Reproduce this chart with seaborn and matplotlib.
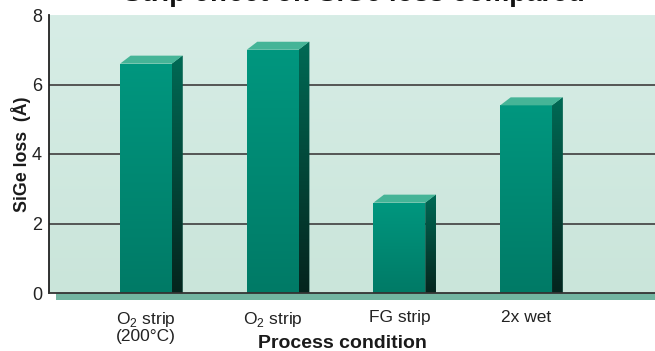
import numpy as np
import pandas as pd
import matplotlib
matplotlib.use("Agg")
import matplotlib.pyplot as plt
import seaborn as sns
from matplotlib.patches import Polygon, Rectangle
from matplotlib.colors import LinearSegmentedColormap

categories = ["O$_2$ strip\n(200°C)", "O$_2$ strip", "FG strip", "2x wet"]
values = [6.6, 7.0, 2.6, 5.4]
yticks = [0, 2, 4, 6, 8]
title = "Strip effect on SiGe loss compared"
xlabel = "Process condition"
ylabel = "SiGe loss  (Å)"

df = pd.DataFrame({"cond": categories, "loss": values})

sns.set_theme(style="white")
plt.rcParams["font.family"] = ["Liberation Sans", "DejaVu Sans"]
plt.rcParams["mathtext.fontset"] = "custom"
plt.rcParams["mathtext.rm"] = "Liberation Sans"

W, H = 655, 351
fig = plt.figure(figsize=(W / 100, H / 100), dpi=100)
ax_left, ax_right, ax_top, ax_bot = 49, 655, 15, 293
ax = fig.add_axes([ax_left / W, 1 - ax_bot / H, (ax_right - ax_left) / W, (ax_bot - ax_top) / H])

sns.barplot(data=df, x="cond", y="loss", ax=ax, width=0.41, color="#00927a",
            saturation=1, linewidth=0, zorder=3)

xlo, xhi = -0.766, 4.017
ax.set_xlim(xlo, xhi)
ax.set_ylim(0, 8)
ax.set_yticks(yticks)

# background gradient
bg = LinearSegmentedColormap.from_list("bg", ["#cae5da", "#d7ede6"])
ax.imshow(np.linspace(0, 1, 256).reshape(-1, 1), aspect="auto", cmap=bg, origin="lower",
          extent=[0, 1, 0, 1], transform=ax.transAxes, zorder=0)

for v in yticks[1:-1]:
    ax.axhline(v, color="#4a4a4a", lw=1.3, zorder=1)

ax_w_px = ax_right - ax_left
ax_h_px = ax_bot - ax_top
dx = 10.5 * (xhi - xlo) / ax_w_px
dy = 8 * 8 / ax_h_px

front_cm = LinearSegmentedColormap.from_list("front", ["#007a66", "#00977f"])
side_cm = LinearSegmentedColormap.from_list("side", ["#05241d", "#006a55"])
grad = np.linspace(0, 1, 256).reshape(-1, 1)

for p in list(ax.patches):
    x0 = p.get_x()
    x1 = x0 + p.get_width()
    h = p.get_height()
    im = ax.imshow(grad, aspect="auto", cmap=front_cm, origin="lower",
                   extent=[x0, x1, 0, h], zorder=3.5)
    im.set_clip_path(p)
    side = Polygon([(x1, 0), (x1 + dx, 0), (x1 + dx, h + dy), (x1, h)], closed=True,
                   facecolor="#005a48", edgecolor="none", zorder=3)
    ax.add_patch(side)
    ims = ax.imshow(grad, aspect="auto", cmap=side_cm, origin="lower",
                    extent=[x1, x1 + dx, 0, h + dy], zorder=3.5)
    ims.set_clip_path(side)
    top = Polygon([(x0, h), (x0 + dx, h + dy), (x1 + dx, h + dy), (x1, h)], closed=True,
                  facecolor="#45b497", edgecolor="none", zorder=4)
    ax.add_patch(top)

ax.set_xlim(xlo, xhi)
ax.set_ylim(0, 8)

# floor strip below axis
ax.add_patch(Rectangle(((56 - ax_left) / ax_w_px, -7 / ax_h_px), 1, 7 / ax_h_px,
                       transform=ax.transAxes, facecolor="#72b5a1", edgecolor="none",
                       clip_on=False, zorder=2))

for s in ["top", "right"]:
    ax.spines[s].set_visible(False)
ax.spines["left"].set_color("#222222")
ax.spines["left"].set_linewidth(1.3)
ax.spines["bottom"].set_color("#333333")
ax.spines["bottom"].set_linewidth(1.3)
ax.spines["left"].set_zorder(5)
ax.spines["bottom"].set_zorder(5)

ax.tick_params(axis="y", length=0, pad=5, labelsize=13, labelcolor="#222222")
ax.tick_params(axis="x", length=0, pad=12, labelsize=12.5, labelcolor="#222222")
for lab in ax.get_xticklabels():
    lab.set_linespacing(1.0)

ax.set_xlabel(xlabel, fontsize=14, fontweight="bold", color="#1a1a1a")
ax.xaxis.set_label_coords(0.485, -42 / ax_h_px)
ax.xaxis.label.set_va("top")
ax.set_ylabel(ylabel, fontsize=12.8, fontweight="bold", color="#1a1a1a")
ax.yaxis.set_label_coords(-28 / ax_w_px, 0.5)
ax.yaxis.label.set_va("center")

fig.text(0.54, 1 - 0.6 / H, title, ha="center", va="baseline", fontsize=20,
         fontweight="bold", color="#111111")

fig.savefig("out.png", dpi=100)
